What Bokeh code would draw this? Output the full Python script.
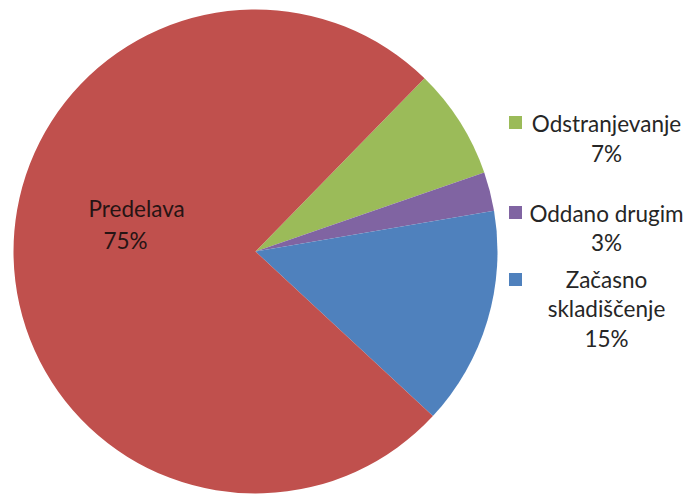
import math
from bokeh.plotting import figure
from bokeh.models import Range1d, ColumnDataSource
from bokeh.core.properties import value
from bokeh.embed import file_html
from bokeh.resources import INLINE

# ---- data (clockwise order, starting at upper right) ----
categories = ["Odstranjevanje", "Oddano drugim", "Začasno skladiščenje", "Predelava"]
shares = [7.4, 2.6, 14.6, 75.4]
colors = ["#9BBB59", "#8064A2", "#4F81BD", "#C0504D"]
legend_items = ["Odstranjevanje", "Oddano drugim", "Začasno skladiščenje"]

W, H = 687, 494
FONT = "Lato"
FS = "22.5px"

p = figure(width=W, height=H, output_backend="svg", toolbar_location=None,
           x_range=Range1d(0, W), y_range=Range1d(0, H), min_border=0)
p.axis.visible = False
p.grid.visible = False
p.outline_line_color = None
p.background_fill_color = "white"

def X(ix):
    return ix

def Y(iy):
    return H - iy

cx, cy, r = X(255), Y(251), 242
start_deg = 45.7
total = sum(shares)
starts, ends = [], []
acc = 0.0
for v in shares:
    s = math.radians(start_deg - acc / total * 360)
    acc += v
    e = math.radians(start_deg - acc / total * 360)
    starts.append(s)
    ends.append(e)

src = ColumnDataSource(dict(start=starts, end=ends, color=colors))
p.wedge(x=cx, y=cy, radius=r, start_angle="start", end_angle="end",
        direction="clock", fill_color="color", line_color=None, source=src)

pct = {c: f"{round(v / total * 100)}%" for c, v in zip(categories, shares)}

# label inside the big slice
big = categories[3]
p.text(x=[X(88)], y=[Y(208)], text=[big], text_font=value(FONT), text_font_size=FS,
       text_color="#261414", text_align="left", text_baseline="middle")
p.text(x=[X(103)], y=[Y(240)], text=[pct[big]], text_font=value(FONT), text_font_size=FS,
       text_color="#261414", text_align="left", text_baseline="middle")

# legend
sq_y = [122, 212, 279]
blk_y = [138, 227.5, 308.5]
for i, cat in enumerate(legend_items):
    col = colors[categories.index(cat)]
    p.rect(x=[X(515)], y=[Y(sq_y[i])], width=13, height=13, fill_color=col, line_color=None)
    lbl = cat.replace(" ", "\n") if len(cat) > 15 else cat
    p.text(x=[X(606)], y=[Y(blk_y[i])], text=[lbl + "\n" + pct[cat]], text_font=value(FONT),
           text_font_size=FS, text_color="#262626", text_align="center",
           text_baseline="middle", text_line_height=1.08)

open("out.html", "w").write(file_html(p, INLINE))
